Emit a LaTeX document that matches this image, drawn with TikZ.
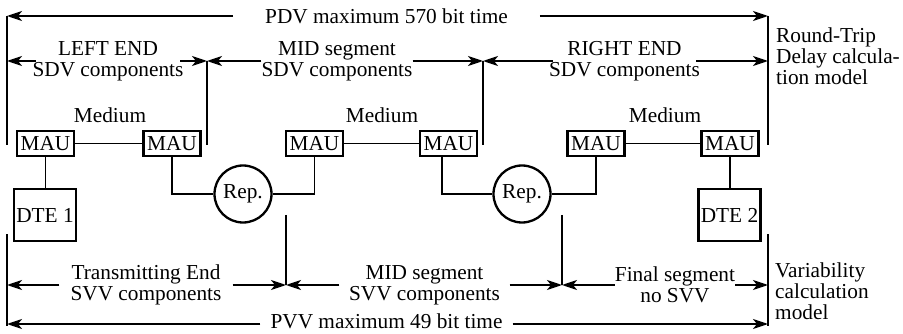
\documentclass[tikz,border=0pt]{standalone}
\usepackage{fontspec}
\setmainfont{Liberation Serif}
\usetikzlibrary{arrows.meta,calc}
\begin{document}
\begin{tikzpicture}[x=1pt,y=-1pt,
  every node/.style={font=\fontsize{21.3}{21}\selectfont},
  ln/.style={line width=1.8pt},
  arr/.style={line width=1.8pt,-{Stealth[length=15pt,width=10pt,inset=4pt]}},
  mau/.style={draw,line width=2.3pt,minimum width=57pt,minimum height=25pt,inner sep=0pt},
  dte/.style={draw,line width=2.3pt,minimum width=62pt,minimum height=52pt,inner sep=0pt},
  rep/.style={draw,circle,line width=2.3pt,minimum size=57pt,inner sep=0pt},
  lbl/.style={align=center,inner ysep=0pt},
  side/.style={align=left,inner sep=0pt,anchor=north west}]
\useasboundingbox (0,0) rectangle (903,334);

% tick lines (upper)
\coordinate (a1t) at (7,16);    \coordinate (a1b) at (7,145);
\coordinate (a2t) at (207,61);  \coordinate (a2b) at (207,145);
\coordinate (a3t) at (483,61);  \coordinate (a3b) at (483,145);
\coordinate (a4t) at (768,16);  \coordinate (a4b) at (768,145);
% tick lines (lower)
\coordinate (b1t) at (7,234);   \coordinate (b1b) at (7,326);
\coordinate (b2t) at (286,215); \coordinate (b2b) at (286,285);
\coordinate (b3t) at (562,215); \coordinate (b3b) at (562,285);
\coordinate (b4t) at (768,234); \coordinate (b4b) at (768,326);
\foreach \p in {a1,a2,a3,a4,b1,b2,b3,b4} \draw[ln] (\p t) -- (\p b);

% upper labels
\node[lbl,inner xsep=32pt] (pdv) at (386.5,16) {PDV maximum 570 bit time};
\draw[arr] (pdv.west) -- (a1t |- pdv);
\draw[arr] (pdv.east) -- (a4t |- pdv);

\node[lbl,inner xsep=-3.5pt] (le) at (108,61) {LEFT END\\SDV components};
\draw[arr] (le.west) -- (a1t |- le);
\draw[arr] (le.east) -- (a2t |- le);

\node[lbl,inner xsep=0pt] (ms) at (337,61) {MID segment\\SDV components};
\draw[arr] (ms.west) -- (a2t |- ms);
\draw[arr] (ms.east) -- (a3t |- ms);

\node[lbl,inner xsep=-4pt] (re) at (624.5,61) {RIGHT END\\SDV components};
\draw[arr] (re.west) -- (a3t |- re);
\draw[arr] (re.east) -- (a4t |- re);

\node[side] (rt) at (776,28) {Round-Trip\\Delay calcula-\\tion model};

% network
\node (med1) at (110,115) {Medium};
\node (med2) at (382,115) {Medium};
\node (med3) at (665,115) {Medium};

\node[mau] (m1) at (45.5,143.5) {MAU};
\node[mau] (m2) at (172,143.5) {MAU};
\node[mau] (m3) at (314.5,143.5) {MAU};
\node[mau] (m4) at (448.5,143.5) {MAU};
\node[mau] (m5) at (596,143.5) {MAU};
\node[mau] (m6) at (730,143.5) {MAU};

\node[dte] (d1) at (45,215) {DTE 1};
\node[dte] (d2) at (729.5,215) {DTE 2};

\node[rep] (r1) at (243,194) {Rep.};
\node[rep] (r2) at (522,194) {Rep.};

\draw[ln] (m1) -- (m2);
\draw[ln] (m3) -- (m4);
\draw[ln] (m5) -- (m6);
\draw[ln] (m1.south) -- (m1.south |- d1.north);
\draw[ln] (m6.south) -- (m6.south |- d2.north);
\draw[ln] (m2.south) |- (r1.west);
\draw[ln] (r1.east) -| (m3.south);
\draw[ln] ([xshift=-6.5pt]m4.south) |- (r2.west);
\draw[ln] (r2.east) -| (m5.south);

% lower labels
\node[lbl,inner xsep=11pt] (te) at (146,285) {Transmitting End\\SVV components};
\draw[arr] (te.west) -- (b1t |- te);
\draw[arr] (te.east) -- (b2t |- te);

\node[lbl,inner xsep=9.5pt] (mv) at (424.5,285) {MID segment\\SVV components};
\draw[arr] (mv.west) -- (b2t |- mv);
\draw[arr] (mv.east) -- (b3t |- mv);

\node[lbl,inner xsep=0pt] (fs) at (675,285) {Final segment\\no SVV};
\draw[arr] (fs.west) -- (b3t |- fs);
\draw[arr] (fs.east) -- (b4t |- fs);

\coordinate (pvvy) at (0,324);
\node[lbl,inner xsep=10pt] (pvv) at (386.5,321.5) {PVV maximum 49 bit time};
\draw[arr] (pvv.west |- pvvy) -- (b1t |- pvvy);
\draw[arr] (pvv.east |- pvvy) -- (b4t |- pvvy);

\node[side] (vc) at (775,263) {Variability\\calculation\\model};
\end{tikzpicture}
\end{document}
